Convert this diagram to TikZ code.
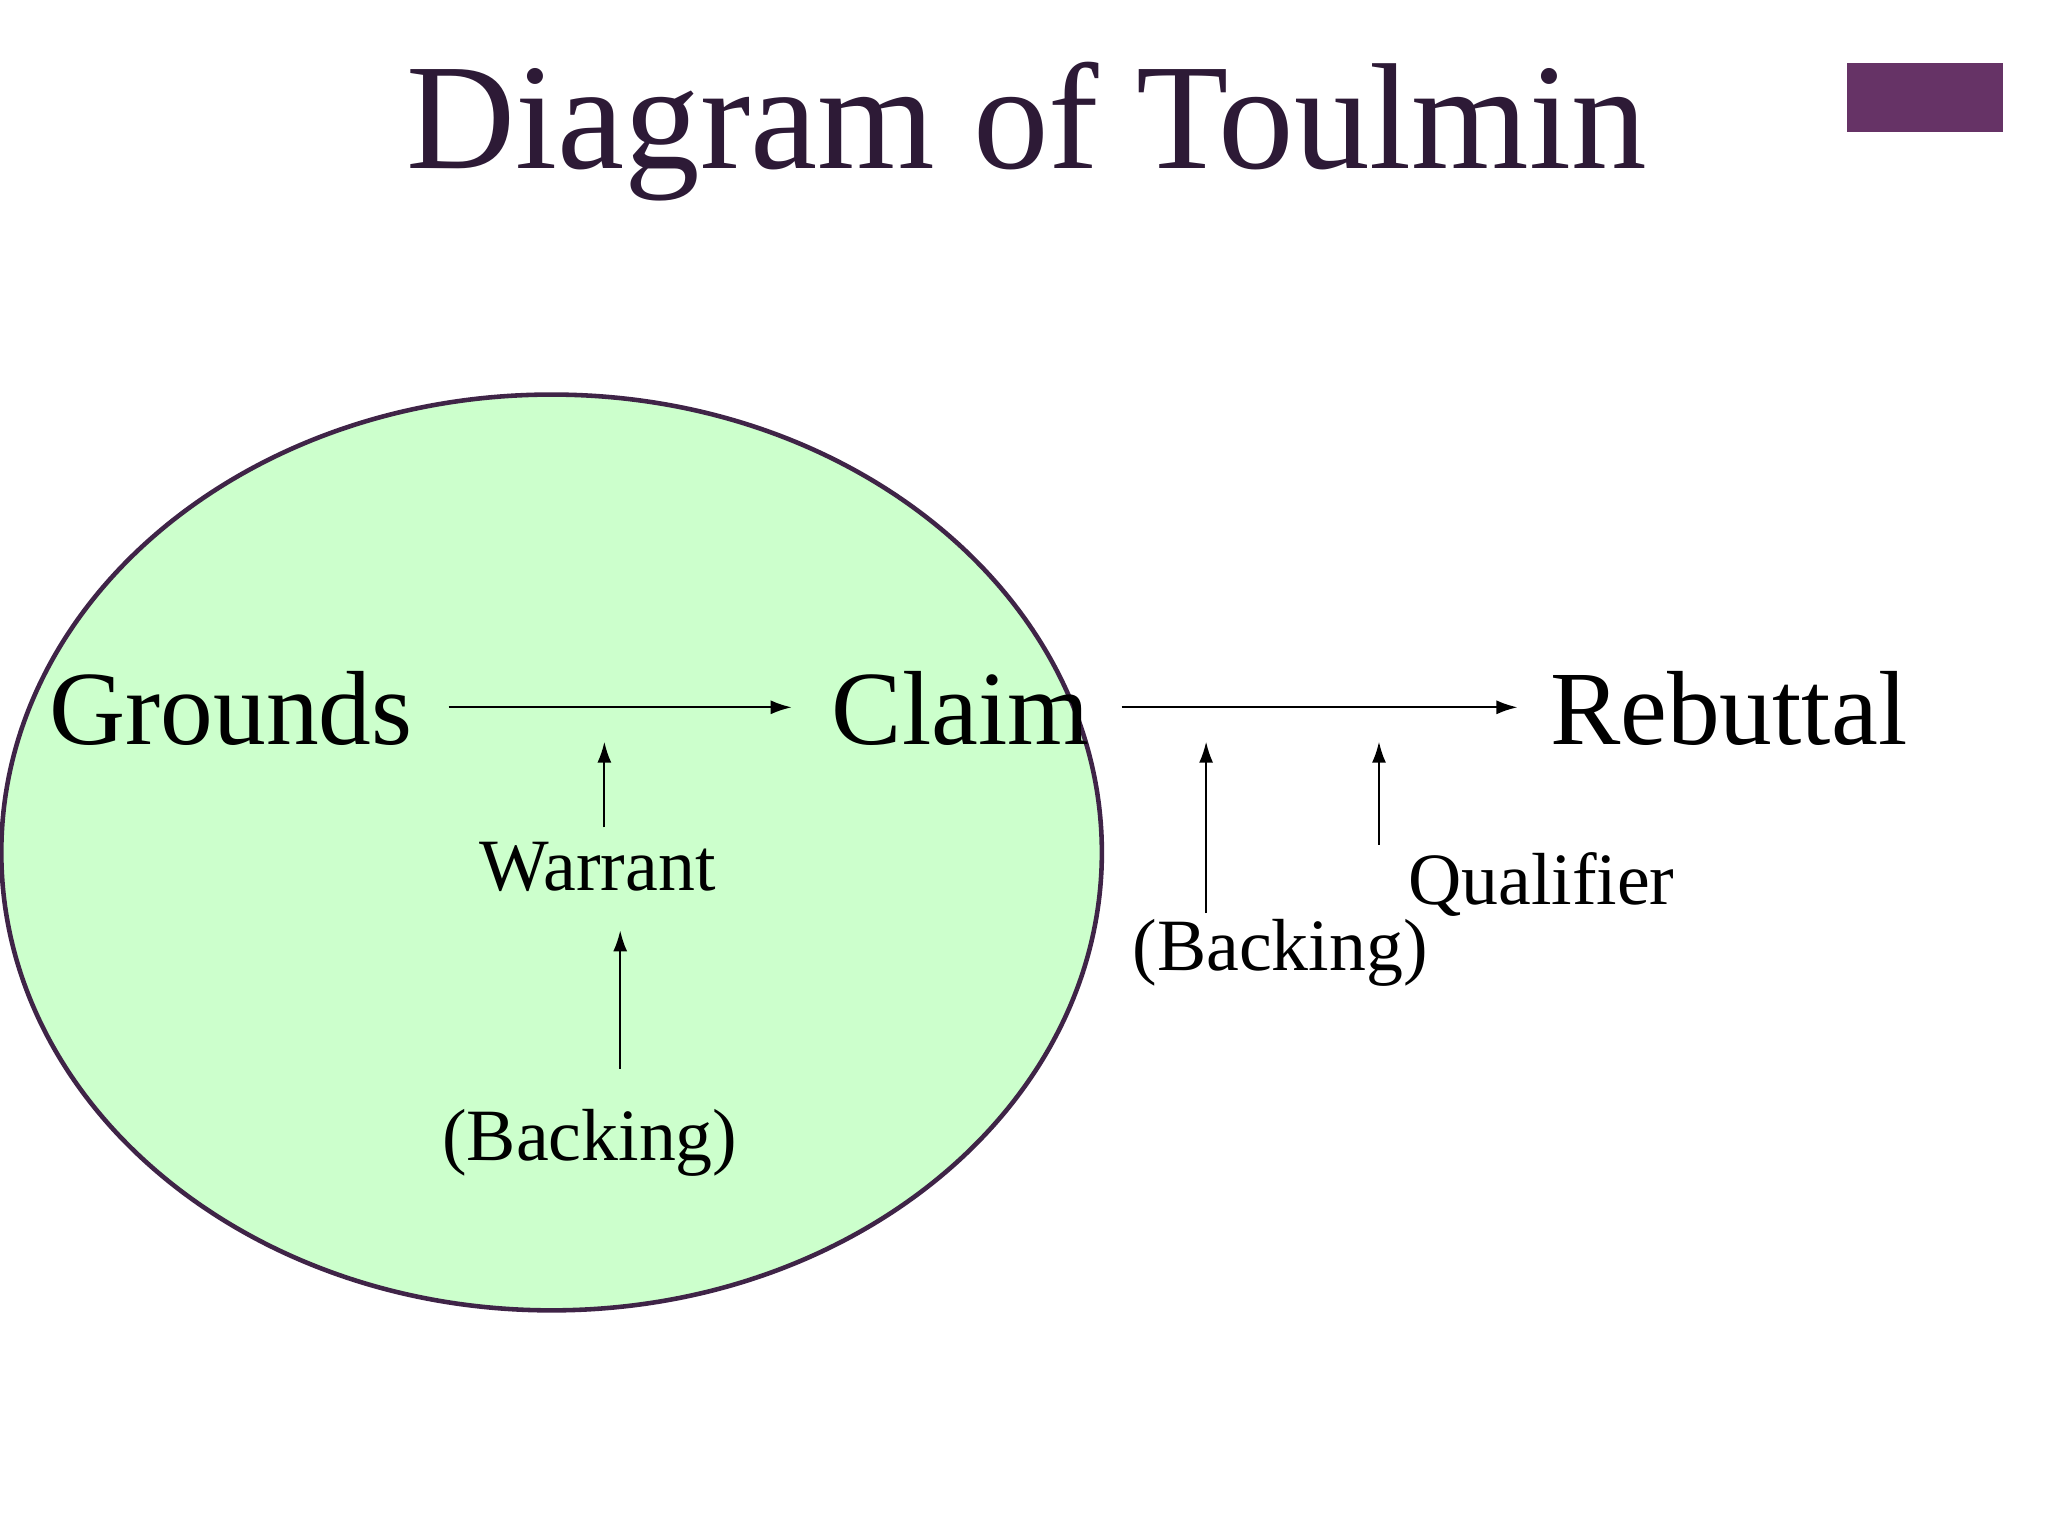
\documentclass[tikz,border=0pt]{standalone}
\usepackage{fontspec}
\setmainfont{Liberation Serif}
\usetikzlibrary{arrows.meta}
\definecolor{ttl}{HTML}{2D1A36}
\definecolor{box}{HTML}{663366}
\definecolor{ell}{HTML}{CCFFCC}
\definecolor{ellb}{HTML}{3F2447}
\begin{document}
\begin{tikzpicture}[x=0.0132cm,y=-0.0132cm,
  big/.style={font=\fontsize{30}{36}\selectfont, inner sep=0},
  small/.style={font=\fontsize{21}{25}\selectfont, inner sep=0},
  arr/.style={-{Latex[length=6pt,width=4pt]}, line width=0.6pt}]
\useasboundingbox (0,0) rectangle (1552,1164);
\fill[white] (0,0) rectangle (1552,1164);
\node[font=\fontsize{43}{50}\selectfont, text=ttl, inner sep=0] (title) at (778,100) {Diagram of Toulmin};
\fill[box] (1400,48) rectangle (1518,100);
\draw[fill=ell, draw=ellb, line width=1.3pt] (418,646) ellipse [x radius=417, y radius=347];
\node[big] (g) at (175,537) {Grounds};
\node[big] (c) at (728,537) {Claim};
\node[big] (r) at (1310,537) {Rebuttal};
\node[small] (w) at (453,657) {Warrant};
\node[small] (b1) at (447,866) {(Backing)};
\node[small] (b2) at (970,722) {(Backing)};
\node[small] (q) at (1168,670) {Qualifier};
\coordinate (a1s) at (340,536); \coordinate (a1e) at (600,536);
\coordinate (a2s) at (850,536); \coordinate (a2e) at (1150,536);
\draw[arr] (a1s) -- (a1e);
\draw[arr] (a2s) -- (a2e);
\coordinate (w1) at (458,627); \coordinate (w2) at (458,562);
\draw[arr] (w1) -- (w2);
\coordinate (k1) at (470,810); \coordinate (k2) at (470,705);
\draw[arr] (k1) -- (k2);
\coordinate (m1) at (914,692); \coordinate (m2) at (914,562);
\draw[arr] (m1) -- (m2);
\coordinate (n1) at (1045,640); \coordinate (n2) at (1045,562);
\draw[arr] (n1) -- (n2);
\end{tikzpicture}
\end{document}
